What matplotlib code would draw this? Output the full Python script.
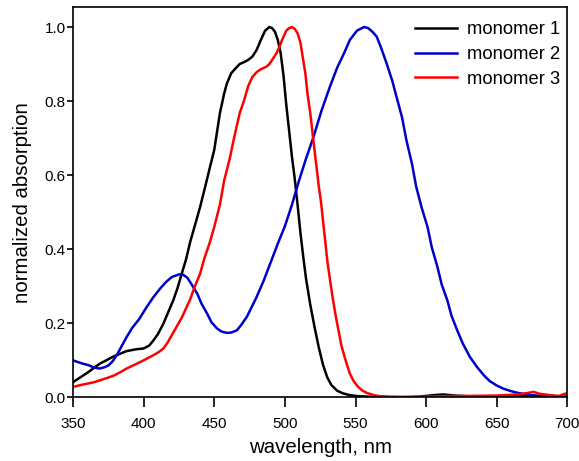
import matplotlib
matplotlib.use("Agg")
import matplotlib.pyplot as plt

# monomer 1 (black)
wl1 = [350, 360, 369, 379, 388, 395, 400, 404, 407, 410, 414, 418, 421, 424, 427,
       430, 433, 436, 440, 444, 447, 450, 454, 457, 459, 462, 465, 468, 471, 474,
       477, 480, 483, 486, 489, 491, 493, 495, 497, 499, 501, 503, 505, 507, 509,
       511, 513, 515, 518, 521, 524, 527, 530, 533, 537, 541, 546, 553, 565, 580,
       595, 605, 612, 620, 635, 650, 670, 690, 700]
abs1 = [0.041, 0.066, 0.091, 0.111, 0.125, 0.130, 0.132, 0.140, 0.154, 0.170, 0.199,
        0.235, 0.262, 0.295, 0.334, 0.372, 0.420, 0.460, 0.514, 0.575, 0.622, 0.668,
        0.767, 0.820, 0.848, 0.875, 0.888, 0.900, 0.905, 0.911, 0.920, 0.938, 0.965,
        0.990, 1.000, 0.997, 0.987, 0.965, 0.930, 0.870, 0.790, 0.720, 0.650, 0.590,
        0.520, 0.445, 0.380, 0.320, 0.250, 0.190, 0.135, 0.088, 0.054, 0.033, 0.018,
        0.011, 0.006, 0.003, 0.001, 0.000, 0.002, 0.006, 0.008, 0.005, 0.002, 0.002,
        0.003, 0.002, 0.002]

# monomer 2 (blue)
wl2 = [350, 353, 357, 361, 364, 367, 369, 372, 375, 378, 381, 384, 388, 392, 397,
       402, 407, 412, 416, 420, 425, 428, 431, 434, 438, 441, 445, 448, 452, 455,
       459, 462, 466, 469, 473, 476, 480, 485, 490, 495, 500, 505, 510, 515, 520,
       526, 532, 537, 542, 546, 551, 556, 559, 562, 565, 568, 572, 576, 579, 583,
       586, 590, 593, 597, 601, 604, 608, 611, 615, 618, 622, 626, 631, 636, 641,
       645, 650, 655, 660, 665, 671, 678, 686, 693, 700]
abs2 = [0.100, 0.096, 0.091, 0.087, 0.082, 0.079, 0.078, 0.081, 0.086, 0.097, 0.114,
        0.135, 0.163, 0.188, 0.212, 0.243, 0.271, 0.295, 0.312, 0.325, 0.332, 0.331,
        0.323, 0.305, 0.280, 0.253, 0.226, 0.203, 0.186, 0.178, 0.174, 0.175, 0.181,
        0.195, 0.217, 0.240, 0.271, 0.315, 0.365, 0.415, 0.462, 0.520, 0.585, 0.645,
        0.700, 0.775, 0.840, 0.890, 0.930, 0.965, 0.990, 1.000, 0.997, 0.987, 0.974,
        0.945, 0.902, 0.855, 0.812, 0.755, 0.695, 0.630, 0.568, 0.510, 0.460, 0.405,
        0.352, 0.305, 0.262, 0.220, 0.181, 0.145, 0.109, 0.082, 0.059, 0.044, 0.032,
        0.023, 0.017, 0.012, 0.008, 0.005, 0.003, 0.002, 0.001]

# monomer 3 (red)
wl3 = [350, 355, 360, 365, 369, 374, 379, 384, 388, 393, 398, 403, 407, 411, 414,
       417, 421, 424, 427, 430, 433, 436, 440, 443, 447, 450, 454, 457, 461, 464,
       468, 471, 474, 477, 480, 483, 487, 489, 491, 494, 496, 498, 501, 503, 505,
       507, 509, 511, 513, 514.5, 516, 518, 520, 522, 524, 525.5, 528.5, 530, 532,
       534, 536, 538, 540, 543, 546, 549, 552, 555, 558, 563, 568, 575, 590, 610,
       630, 650, 665, 672, 676, 680, 688, 694, 700]
abs3 = [0.028, 0.033, 0.037, 0.041, 0.046, 0.052, 0.059, 0.069, 0.078, 0.087, 0.096,
        0.106, 0.114, 0.123, 0.132, 0.148, 0.175, 0.195, 0.215, 0.240, 0.265, 0.297,
        0.334, 0.375, 0.420, 0.460, 0.520, 0.585, 0.645, 0.700, 0.767, 0.800, 0.840,
        0.865, 0.878, 0.886, 0.893, 0.900, 0.911, 0.929, 0.945, 0.965, 0.990, 0.997,
        1.000, 0.995, 0.983, 0.958, 0.910, 0.875, 0.820, 0.767, 0.700, 0.635, 0.570,
        0.530, 0.424, 0.370, 0.316, 0.265, 0.220, 0.180, 0.140, 0.100, 0.064, 0.042,
        0.028, 0.018, 0.012, 0.006, 0.003, 0.002, 0.001, 0.003, 0.004, 0.005, 0.008,
        0.012, 0.015, 0.010, 0.006, 0.004, 0.012]

plt.rcParams['font.family'] = ['Liberation Sans', 'DejaVu Sans']
tick_font = ['Liberation Sans Narrow', 'Liberation Sans']

fig = plt.figure(figsize=(5.79, 4.61), dpi=100)
ax = fig.add_axes([0.126, 0.138, 0.854, 0.846])

ax.plot(wl1, abs1, color='black', lw=1.8, label='monomer 1')
ax.plot(wl2, abs2, color='#0000c8', lw=1.8, label='monomer 2')
ax.plot(wl3, abs3, color='#ff0000', lw=1.8, label='monomer 3')

ax.set_xlim(350, 700)
ax.set_ylim(0, 1.053)
ax.set_xticks([350, 400, 450, 500, 550, 600, 650, 700])
ax.set_yticks([0.0, 0.2, 0.4, 0.6, 0.8, 1.0])
ax.set_yticklabels(['0.0', '0.2', '0.4', '0.6', '0.8', '1.0'])
ax.tick_params(axis='x', direction='out', length=7.2, width=1.2, pad=7)
ax.tick_params(axis='y', direction='out', length=4.3, width=1.2, pad=1)
for lab in ax.get_xticklabels() + ax.get_yticklabels():
    lab.set_family(tick_font)
    lab.set_fontsize(11)
for s in ax.spines.values():
    s.set_linewidth(1.2)

ax.set_xlabel('wavelength, nm', fontsize=14.7, labelpad=5)
ax.set_ylabel('normalized absorption', fontsize=14.7, labelpad=9)

ax.legend(loc='upper right', bbox_to_anchor=(1.0, 0.983), frameon=False,
          fontsize=13.2, handlelength=2.3, handletextpad=0.55,
          labelspacing=0.42, borderaxespad=0)

fig.savefig('out.png', dpi=100)
